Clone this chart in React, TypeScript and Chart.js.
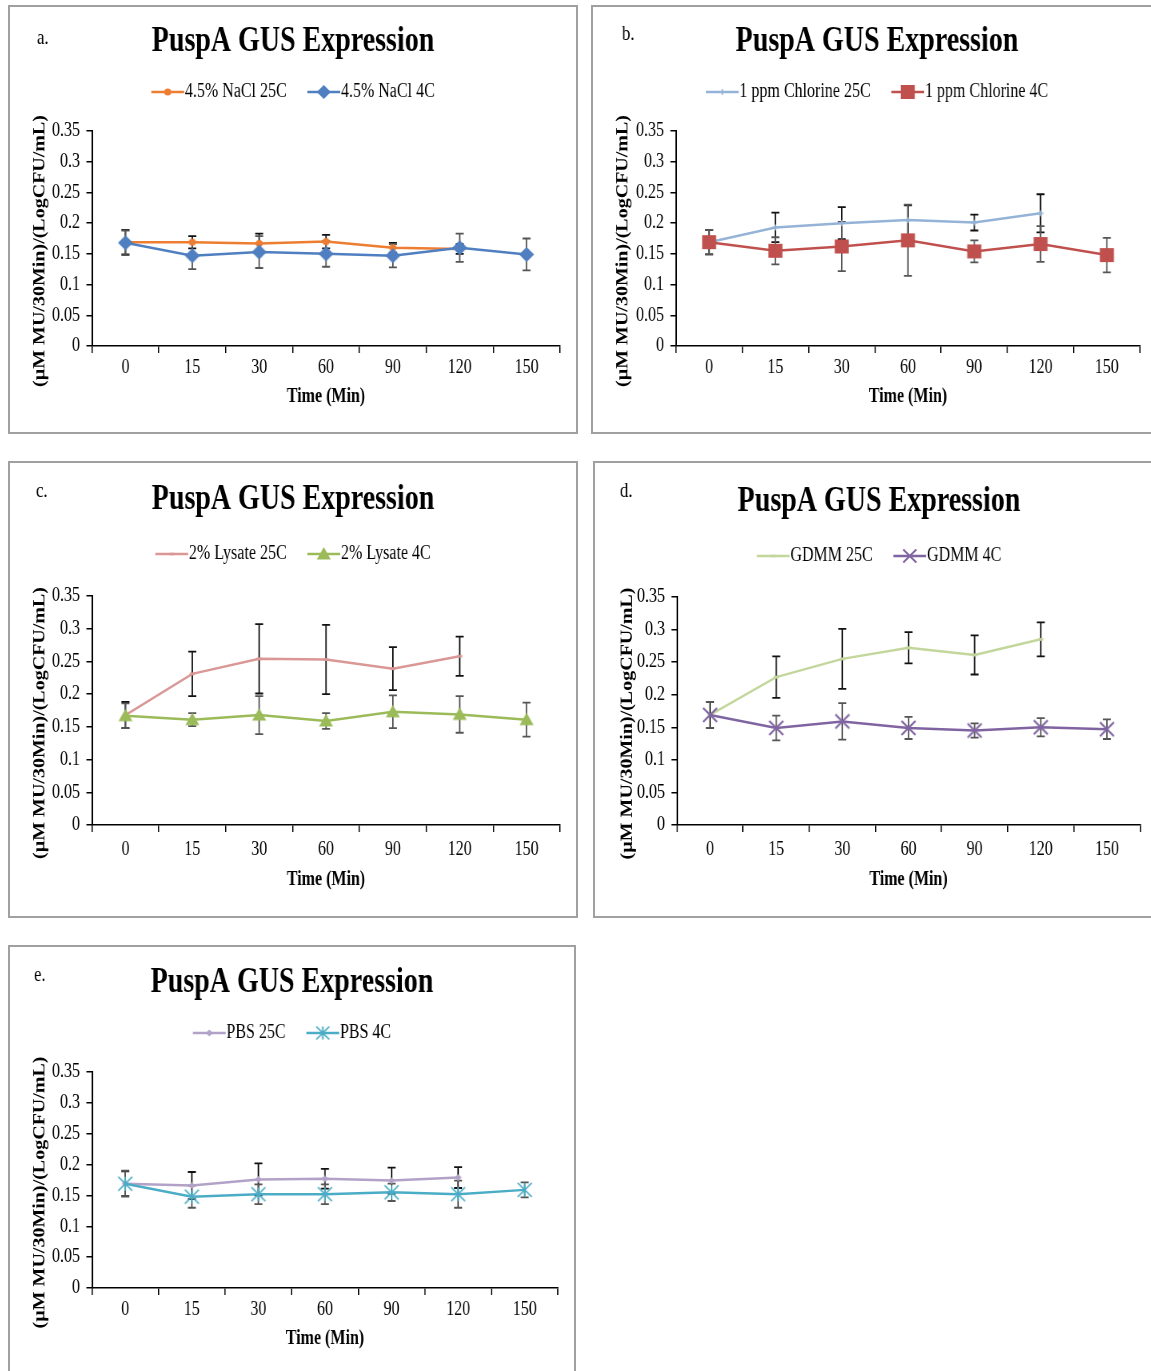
import React, { useEffect, useRef } from 'react';
import Chart from 'chart.js/auto';

const FONT = '"Liberation Serif", "Times New Roman", serif';
const K = 0.8; // horizontal condensing of the whole figure

const TIME_LABELS = ['0', '15', '30', '60', '90', '120', '150'];
const Y_TICK_LABELS = ['0', '0.05', '0.1', '0.15', '0.2', '0.25', '0.3', '0.35'];
const TITLE = 'PuspA GUS Expression';
const X_TITLE = 'Time (Min)';
const Y_TITLE = '(µM MU/30Min)/(LogCFU/mL)';

// a. NaCl
const NACL_25C = [0.169, 0.169, 0.167, 0.170, 0.160, 0.158];
const NACL_25C_ERR = [0.02, 0.01, 0.016, 0.011, 0.008, 0.008];
const NACL_4C = [0.168, 0.147, 0.153, 0.150, 0.147, 0.160, 0.149];
const NACL_4C_ERR = [0.02, 0.022, 0.026, 0.021, 0.019, 0.023, 0.026];

// b. Chlorine
const CL_25C = [0.169, 0.193, 0.200, 0.205, 0.201, 0.216];
const CL_25C_ERR = [0.02, 0.024, 0.026, 0.024, 0.013, 0.031];
const CL_4C = [0.169, 0.155, 0.162, 0.172, 0.154, 0.166, 0.148];
const CL_4C_ERR = [0.02, 0.022, 0.04, 0.058, 0.018, 0.029, 0.028];

// c. Lysate
const LYS_25C = [0.168, 0.231, 0.254, 0.253, 0.239, 0.258];
const LYS_25C_ERR = [0.02, 0.034, 0.053, 0.053, 0.033, 0.030];
const LYS_4C = [0.167, 0.161, 0.168, 0.159, 0.173, 0.169, 0.161];
const LYS_4C_ERR = [0.019, 0.01, 0.029, 0.012, 0.025, 0.028, 0.026];

// d. GDMM
const GDMM_25C = [0.169, 0.227, 0.255, 0.272, 0.261, 0.285];
const GDMM_25C_ERR = [0.02, 0.032, 0.046, 0.024, 0.03, 0.026];
const GDMM_4C = [0.169, 0.149, 0.159, 0.149, 0.145, 0.150, 0.147];
const GDMM_4C_ERR = [0.02, 0.019, 0.028, 0.017, 0.011, 0.014, 0.015];

// e. PBS
const PBS_25C = [0.169, 0.166, 0.176, 0.177, 0.174, 0.179];
const PBS_25C_ERR = [0.02, 0.022, 0.026, 0.016, 0.021, 0.017];
const PBS_4C = [0.169, 0.148, 0.152, 0.152, 0.155, 0.152, 0.159];
const PBS_4C_ERR = [0.021, 0.018, 0.016, 0.016, 0.014, 0.022, 0.012];

type Series = {
  label: string; data: number[]; err: number[]; color: string; marker: string;
  size: number; legendSize: number; errColor: string;
};
type PanelSpec = {
  letter: string; letterPos: [number, number];
  box: { x: number; y: number; w: number; h: number };
  chart: { l: number; r: number; t: number; b: number };
  titleY: number; legendY: number; xLabelY: number; xTitleY: number; yTitleX: number;
  series: Series[];
};

const ERR_DARK = '#111111';
const ERR_GRAY = '#555555';

const TITLE_SIZE = 35;
const LEGEND_SIZE = 20;
const LEGEND_PAD = 26;
const AXIS_TITLE_SIZE = 20;

const PANELS: PanelSpec[] = [
  {
    letter: 'a.', letterPos: [37, 38],
    box: { x: 8, y: 5, w: 570, h: 429 },
    chart: { l: 92, r: 560, t: 131, b: 346 },
    titleY: 42, legendY: 92, xLabelY: 368, xTitleY: 397, yTitleX: 40,
    series: [
      { label: '4.5% NaCl 25C', data: NACL_25C, err: NACL_25C_ERR, color: '#ED7D31', marker: 'circle', size: 7, legendSize: 7, errColor: ERR_DARK },
      { label: '4.5% NaCl 4C', data: NACL_4C, err: NACL_4C_ERR, color: '#4F7FC0', marker: 'diamond', size: 15, legendSize: 14, errColor: ERR_GRAY },
    ],
  },
  {
    letter: 'b.', letterPos: [622, 34],
    box: { x: 591, y: 5, w: 572, h: 429 },
    chart: { l: 676, r: 1140, t: 131, b: 346 },
    titleY: 42, legendY: 92, xLabelY: 368, xTitleY: 397, yTitleX: 623,
    series: [
      { label: '1 ppm Chlorine 25C', data: CL_25C, err: CL_25C_ERR, color: '#95B3D7', marker: 'plus', size: 6, legendSize: 6, errColor: ERR_DARK },
      { label: '1 ppm Chlorine 4C', data: CL_4C, err: CL_4C_ERR, color: '#C0504D', marker: 'square', size: 14, legendSize: 14, errColor: ERR_GRAY },
    ],
  },
  {
    letter: 'c.', letterPos: [36, 491],
    box: { x: 8, y: 461, w: 570, h: 457 },
    chart: { l: 92, r: 560, t: 596, b: 825 },
    titleY: 500, legendY: 554, xLabelY: 850, xTitleY: 880, yTitleX: 40,
    series: [
      { label: '2% Lysate 25C', data: LYS_25C, err: LYS_25C_ERR, color: '#D99795', marker: 'dash', size: 5, legendSize: 5, errColor: ERR_DARK },
      { label: '2% Lysate 4C', data: LYS_4C, err: LYS_4C_ERR, color: '#9BBB59', marker: 'triangle', size: 14, legendSize: 14, errColor: ERR_GRAY },
    ],
  },
  {
    letter: 'd.', letterPos: [620, 491],
    box: { x: 593, y: 461, w: 572, h: 457 },
    chart: { l: 677, r: 1140, t: 597, b: 825 },
    titleY: 502, legendY: 556, xLabelY: 850, xTitleY: 880, yTitleX: 624,
    series: [
      { label: 'GDMM 25C', data: GDMM_25C, err: GDMM_25C_ERR, color: '#C3D69B', marker: 'dash', size: 5, legendSize: 5, errColor: ERR_DARK },
      { label: 'GDMM 4C', data: GDMM_4C, err: GDMM_4C_ERR, color: '#8064A2', marker: 'x', size: 14, legendSize: 13, errColor: ERR_GRAY },
    ],
  },
  {
    letter: 'e.', letterPos: [34, 975],
    box: { x: 8, y: 945, w: 568, h: 440 },
    chart: { l: 92, r: 558, t: 1072, b: 1288 },
    titleY: 983, legendY: 1033, xLabelY: 1310, xTitleY: 1339, yTitleX: 40,
    series: [
      { label: 'PBS 25C', data: PBS_25C, err: PBS_25C_ERR, color: '#B3A2C7', marker: 'diamond', size: 7, legendSize: 7, errColor: ERR_DARK },
      { label: 'PBS 4C', data: PBS_4C, err: PBS_4C_ERR, color: '#4BACC6', marker: 'star', size: 14, legendSize: 13, errColor: ERR_GRAY },
    ],
  },
];

function drawMarker(ctx: CanvasRenderingContext2D, shape: string, cx: number, cy: number, s: number, color: string, sx: number) {
  const h = s / 2;
  ctx.save();
  ctx.translate(cx, cy);
  ctx.scale(sx, 1);
  ctx.fillStyle = color;
  ctx.strokeStyle = color;
  ctx.beginPath();
  switch (shape) {
    case 'circle':
      ctx.arc(0, 0, h, 0, Math.PI * 2); ctx.fill(); break;
    case 'diamond':
      ctx.moveTo(0, -h); ctx.lineTo(h, 0); ctx.lineTo(0, h); ctx.lineTo(-h, 0); ctx.closePath(); ctx.fill(); break;
    case 'square':
      ctx.rect(-h, -h, s, s); ctx.fill(); break;
    case 'triangle':
      ctx.moveTo(0, -h); ctx.lineTo(h, h * 0.8); ctx.lineTo(-h, h * 0.8); ctx.closePath(); ctx.fill(); break;
    case 'x':
      ctx.lineWidth = 1.8;
      ctx.moveTo(-h, -h); ctx.lineTo(h, h); ctx.moveTo(-h, h); ctx.lineTo(h, -h); ctx.stroke(); break;
    case 'star':
      ctx.lineWidth = 1.6;
      ctx.moveTo(-h, -h); ctx.lineTo(h, h); ctx.moveTo(-h, h); ctx.lineTo(h, -h);
      ctx.moveTo(0, -h); ctx.lineTo(0, h); ctx.stroke(); break;
    case 'plus':
      ctx.lineWidth = 1.4;
      ctx.moveTo(-h, 0); ctx.lineTo(h, 0); ctx.moveTo(0, -h); ctx.lineTo(0, h); ctx.stroke(); break;
    default:
      ctx.lineWidth = 2.5;
      ctx.moveTo(-h, 0); ctx.lineTo(h, 0); ctx.stroke(); break;
  }
  ctx.restore();
}

function makeMarkerImage(shape: string, s: number, color: string, sx: number) {
  const c = document.createElement('canvas');
  c.width = Math.ceil(s * sx) + 6;
  c.height = Math.ceil(s) + 6;
  const ctx = c.getContext('2d')!;
  drawMarker(ctx, shape, c.width / 2, c.height / 2, s, color, sx);
  return c;
}

function makeLegendIcon(shape: string, s: number, color: string, sx: number) {
  const c = document.createElement('canvas');
  c.width = 54;
  c.height = 22;
  const ctx = c.getContext('2d')!;
  ctx.strokeStyle = color;
  ctx.lineWidth = 2.5;
  ctx.beginPath();
  ctx.moveTo(11, 11);
  ctx.lineTo(52, 11);
  ctx.stroke();
  drawMarker(ctx, shape, 31.5, 11, s, color, sx);
  return c;
}

function computeLayout(spec: PanelSpec) {
  const cssW = spec.box.w - 4;
  const cssH = spec.box.h - 4;
  const cl = spec.box.x + 2;
  const ct = spec.box.y + 2;
  const Wc = Math.round(cssW / K);
  const kk = cssW / Wc;
  const toX = (px: number) => (px - cl) / kk;
  const toY = (py: number) => py - ct;
  const chartL = toX(spec.chart.l);
  const chartR = toX(spec.chart.r);
  const chartT = toY(spec.chart.t);
  const chartB = toY(spec.chart.b);
  const Pr = Wc - chartR;
  const Pl = Pr;
  const yScaleW = chartL - Pl;
  const axLh = AXIS_TITLE_SIZE * 1.2;
  const yTitlePad = Math.max(0, toX(spec.yTitleX) - Pl - axLh / 2);
  const titlePt = toY(spec.titleY) - TITLE_SIZE / 2;
  const LP = LEGEND_PAD;
  const legendTop = toY(spec.legendY) - LP - LEGEND_SIZE / 2;
  const titlePb = legendTop - titlePt - TITLE_SIZE;
  const legendBottom = legendTop + LEGEND_SIZE + LP + 10;
  const spacer = Math.max(1, chartT - legendBottom);
  const xScaleH = cssH - chartB;
  const xTickPad = Math.max(0, toY(spec.xLabelY) - chartB - 7 - 12);
  const xTitlePb = cssH - toY(spec.xTitleY) - axLh / 2;
  return {
    Wc, Hc: cssH, kk, Pl, Pr, yScaleW, yTitlePad, titlePt, titlePb, LP, spacer,
    xScaleH, xTickPad, xTitlePb, letterX: toX(spec.letterPos[0]), letterY: toY(spec.letterPos[1]),
  };
}

function Panel({ spec }: { spec: PanelSpec }) {
  const ref = useRef<HTMLCanvasElement | null>(null);
  const L = computeLayout(spec);

  useEffect(() => {
    const canvas = ref.current;
    if (!canvas) return;
    const sx = 1 / L.kk;
    const icons = spec.series.map((s) => makeLegendIcon(s.marker, s.legendSize, s.color, sx));

    const errorBars = {
      id: 'errorBars',
      beforeDatasetsDraw(chart: any) {
        const ctx = chart.ctx as CanvasRenderingContext2D;
        const ys = chart.scales.y;
        chart.data.datasets.forEach((ds: any, di: number) => {
          const meta = chart.getDatasetMeta(di);
          ctx.save();
          ctx.strokeStyle = ds.errColor;
          ctx.lineWidth = 1.8;
          meta.data.forEach((el: any, i: number) => {
            const v = ds.data[i];
            const e = ds.errorBars[i];
            if (v == null || e == null) return;
            const x = el.x;
            const yt = ys.getPixelForValue(v + e);
            const yb = ys.getPixelForValue(v - e);
            const cap = 5;
            ctx.beginPath();
            ctx.moveTo(x, yt); ctx.lineTo(x, yb);
            ctx.moveTo(x - cap, yt); ctx.lineTo(x + cap, yt);
            ctx.moveTo(x - cap, yb); ctx.lineTo(x + cap, yb);
            ctx.stroke();
          });
          ctx.restore();
        });
      },
    };

    const letterPlugin = {
      id: 'panelLetter',
      afterDraw(chart: any) {
        const ctx = chart.ctx as CanvasRenderingContext2D;
        ctx.save();
        ctx.font = `21px ${FONT}`;
        ctx.fillStyle = '#000';
        ctx.textAlign = 'left';
        ctx.textBaseline = 'middle';
        ctx.fillText(spec.letter, L.letterX, L.letterY);
        ctx.restore();
      },
    };

    const datasets = spec.series.map((s, idx) => ({
      label: s.label,
      data: s.data,
      errorBars: s.err,
      errColor: s.errColor,
      borderColor: s.color,
      backgroundColor: s.color,
      borderWidth: 2.5,
      tension: 0,
      pointStyle: makeMarkerImage(s.marker, s.size, s.color, sx),
      pointRadius: 5,
      order: idx === 0 ? 1 : 0,
    }));

    const chart = new Chart(canvas, {
      type: 'line',
      data: { labels: TIME_LABELS, datasets: datasets as any },
      plugins: [errorBars, letterPlugin],
      options: {
        responsive: false,
        animation: false,
        events: [],
        layout: { padding: { left: L.Pl, right: L.Pr, top: 0, bottom: 0 } },
        plugins: {
          tooltip: { enabled: false },
          title: {
            display: true,
            text: TITLE,
            color: '#000',
            font: { family: FONT, size: TITLE_SIZE, weight: 'bold', lineHeight: 1 },
            padding: { top: L.titlePt, bottom: L.titlePb },
          },
          subtitle: {
            display: true,
            text: '',
            weight: 500,
            font: { family: FONT, size: 1, lineHeight: 1 },
            padding: { top: L.spacer - 1, bottom: 0 },
          },
          legend: {
            display: true,
            position: 'top',
            labels: {
              usePointStyle: true,
              pointStyleWidth: 32,
              padding: L.LP,
              color: '#000',
              font: { family: FONT, size: LEGEND_SIZE },
              generateLabels: (ch: any) => {
                const items = (Chart as any).defaults.plugins.legend.labels.generateLabels(ch);
                items.sort((a: any, b: any) => a.datasetIndex - b.datasetIndex);
                return items.map((it: any) => ({ ...it, pointStyle: icons[it.datasetIndex] }));
              },
            },
          },
        } as any,
        scales: {
          x: {
            type: 'category',
            offset: true,
            grid: { offset: true, drawOnChartArea: false, drawTicks: true, tickLength: 7, color: '#000', lineWidth: 1.5 },
            border: { display: true, color: '#000', width: 1.5 },
            ticks: { color: '#000', font: { family: FONT, size: 20 }, padding: L.xTickPad, maxRotation: 0, autoSkip: false },
            title: {
              display: true, text: X_TITLE, color: '#000',
              font: { family: FONT, size: AXIS_TITLE_SIZE, weight: 'bold' },
              padding: { top: 0, bottom: L.xTitlePb },
            },
            afterFit: (s: any) => { s.height = L.xScaleH; },
          },
          y: {
            min: 0,
            max: 0.35,
            grid: { drawOnChartArea: false, drawTicks: true, tickLength: 7, color: '#000', lineWidth: 1.5 },
            border: { display: true, color: '#000', width: 2 },
            ticks: {
              stepSize: 0.05, color: '#000', padding: 8,
              font: { family: FONT, size: 20 },
              callback: (v: any) => Y_TICK_LABELS[Math.round(Number(v) / 0.05)],
            },
            title: {
              display: true, text: Y_TITLE + '\u00A0\u00A0\u00A0\u00A0\u00A0', color: '#000',
              font: { family: FONT, size: AXIS_TITLE_SIZE, weight: 'bold' },
              padding: { top: L.yTitlePad, bottom: 0 },
            },
            afterFit: (s: any) => { s.width = L.yScaleW; },
          },
        } as any,
      },
    } as any);
    return () => chart.destroy();
  }, []);

  return (
    <div
      style={{
        position: 'absolute', left: spec.box.x, top: spec.box.y, width: spec.box.w, height: spec.box.h,
        border: '2px solid #a0a0a0', boxSizing: 'border-box', overflow: 'hidden', background: '#fff',
      }}
    >
      <canvas
        ref={ref}
        width={L.Wc}
        height={L.Hc}
        style={{
          position: 'absolute', left: 0, top: 0, width: `${L.Wc}px`, height: `${L.Hc}px`,
          transform: `scaleX(${L.kk})`, transformOrigin: '0 0',
        }}
      />
    </div>
  );
}

export default function App() {
  return (
    <div style={{ position: 'absolute', left: 0, top: 0, width: 1151, height: 1371, overflow: 'hidden', background: '#fff' }}>
      {PANELS.map((p) => (
        <Panel key={p.letter} spec={p} />
      ))}
    </div>
  );
}
